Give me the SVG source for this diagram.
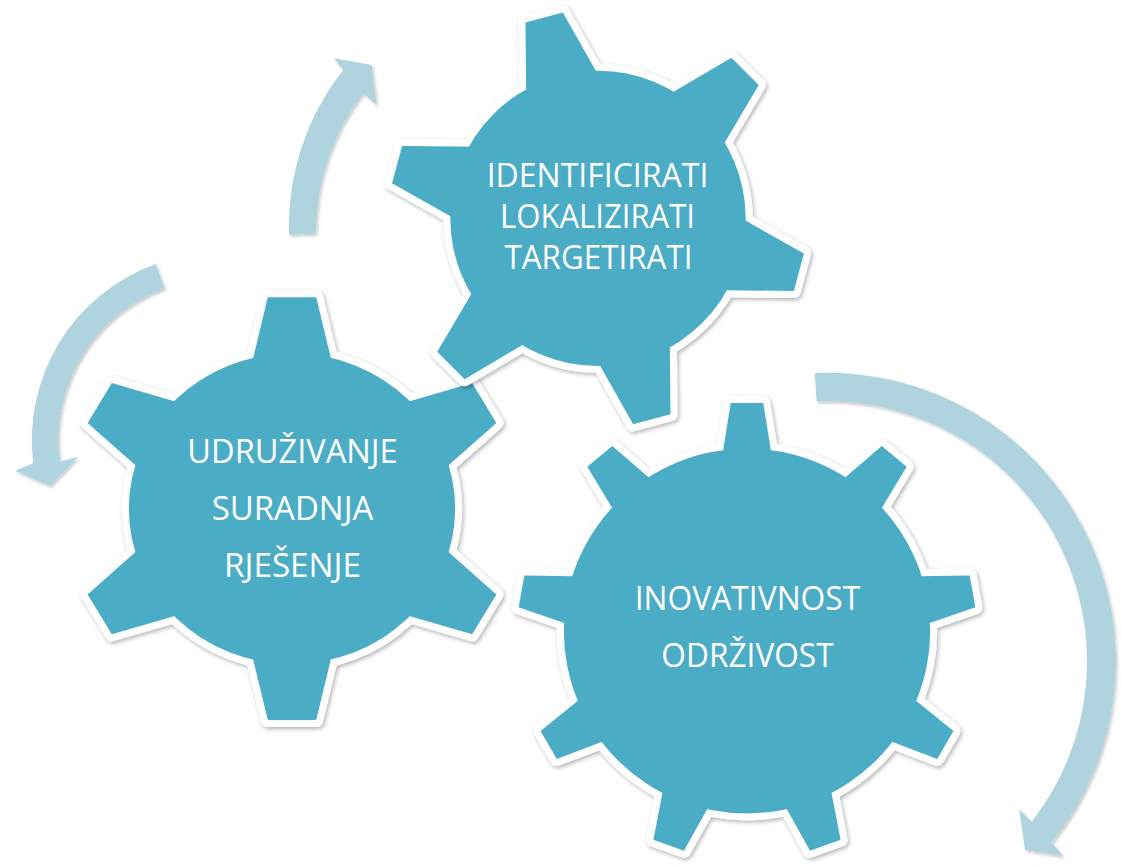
<svg xmlns="http://www.w3.org/2000/svg" xmlns:xlink="http://www.w3.org/1999/xlink" width="1121" height="865" viewBox="0 0 1121 865">
<defs>
<style>
.ol { fill:#ffffff; stroke:#ffffff; stroke-width:14; stroke-linejoin:round; }
.fl { fill:#4BACC6; stroke:none; }
.txt { font-family:'Open Sans','Noto Sans','Liberation Sans',sans-serif; font-size:32.5px; fill:#ffffff; text-anchor:middle; }
.arr { fill:#AFD3DF; }
</style>
<filter id="sh" x="-10%" y="-10%" width="120%" height="120%">
<feDropShadow dx="1.5" dy="2" stdDeviation="2" flood-color="#000000" flood-opacity="0.3"/>
</filter>
<filter id="ash" x="-10%" y="-10%" width="120%" height="120%">
<feDropShadow dx="1.5" dy="2" stdDeviation="1.5" flood-color="#000000" flood-opacity="0.22"/>
</filter>
<path id="t1" d="M-0.093,-1 L0.093,-1 L0.196,-0.6 L-0.196,-0.6 Z" vector-effect="non-scaling-stroke"/>
<circle id="c1" r="0.71" vector-effect="non-scaling-stroke"/>
<path id="t2" d="M-0.109,-1 L0.109,-1 L0.201,-0.6 L-0.201,-0.6 Z" vector-effect="non-scaling-stroke"/>
<circle id="c2" r="0.735" vector-effect="non-scaling-stroke"/>
<path id="t3" d="M-0.071,-1 L0.071,-1 L0.119,-0.7 L-0.119,-0.7 Z" vector-effect="non-scaling-stroke"/>
<circle id="c3" r="0.80" vector-effect="non-scaling-stroke"/>
<g id="g1shape">
<use xlink:href="#c1"/>
<use xlink:href="#t1" transform="rotate(-15)"/>
<use xlink:href="#t1" transform="rotate(45)"/>
<use xlink:href="#t1" transform="rotate(105)"/>
<use xlink:href="#t1" transform="rotate(165)"/>
<use xlink:href="#t1" transform="rotate(225)"/>
<use xlink:href="#t1" transform="rotate(285)"/>
</g>
<g id="g2shape">
<use xlink:href="#c2"/>
<use xlink:href="#t2"/>
<use xlink:href="#t2" transform="rotate(60)"/>
<use xlink:href="#t2" transform="rotate(120)"/>
<use xlink:href="#t2" transform="rotate(180)"/>
<use xlink:href="#t2" transform="rotate(240)"/>
<use xlink:href="#t2" transform="rotate(300)"/>
</g>
<g id="g3shape">
<use xlink:href="#c3"/>
<use xlink:href="#t3"/>
<use xlink:href="#t3" transform="rotate(40)"/>
<use xlink:href="#t3" transform="rotate(80)"/>
<use xlink:href="#t3" transform="rotate(120)"/>
<use xlink:href="#t3" transform="rotate(160)"/>
<use xlink:href="#t3" transform="rotate(200)"/>
<use xlink:href="#t3" transform="rotate(240)"/>
<use xlink:href="#t3" transform="rotate(280)"/>
<use xlink:href="#t3" transform="rotate(320)"/>
</g>
</defs>
<rect x="0" y="0" width="1121" height="865" fill="#ffffff"/>

<g id="connectors" class="arr" filter="url(#ash)">
<path id="arrow-a" d="M289.2,234.7 A252,252 0 0 1 343.3,70 L334,58.3 L371.7,65 L376.7,105 L363.3,93.3 A225,225 0 0 0 316.2,233.6 Z"/>
<path id="arrow-b" d="M155.7,264.1 A187,187 0 0 0 33.3,463.3 L15,470.7 L50,486 L78.3,456.7 L60,461.7 A161,161 0 0 1 164.5,288.5 Z"/>
<path id="arrow-c" d="M814.9,373 A288.5,288.5 0 0 1 1051.7,842.7 L1063.3,856 L1025,850 L1019.3,809.3 L1031.7,821.7 A260,260 0 0 0 816.6,401.5 Z"/>
</g>

<g id="gear-inovativnost">
<g filter="url(#sh)"><g class="ol" transform="translate(747 631) scale(229 228)"><use xlink:href="#g3shape"/></g></g>
<g class="fl" transform="translate(747 631) scale(229 228)"><use xlink:href="#g3shape"/></g>
<text class="txt" x="747.5" y="610" textLength="225.7" lengthAdjust="spacingAndGlyphs">INOVATIVNOST</text>
<text class="txt" x="747.5" y="666.7" textLength="172.3" lengthAdjust="spacingAndGlyphs">ODRŽIVOST</text>
</g>

<g id="gear-udruzivanje">
<g filter="url(#sh)"><g class="ol" transform="translate(292 508.7) scale(222 211.4)"><use xlink:href="#g2shape"/></g></g>
<g class="fl" transform="translate(292 508.7) scale(222 211.4)"><use xlink:href="#g2shape"/></g>
<text class="txt" x="292.5" y="462.7" textLength="210.3" lengthAdjust="spacingAndGlyphs">UDRUŽIVANJE</text>
<text class="txt" x="292.5" y="520" textLength="161.7" lengthAdjust="spacingAndGlyphs">SURADNJA</text>
<text class="txt" x="292.5" y="576.7" textLength="137" lengthAdjust="spacingAndGlyphs">RJEŠENJE</text>
</g>

<g id="gear-identificirati">
<g filter="url(#sh)"><g class="ol" transform="translate(598 218.4) scale(208)"><use xlink:href="#g1shape"/></g></g>
<g class="fl" transform="translate(598 218.4) scale(208)"><use xlink:href="#g1shape"/></g>
<text class="txt" x="597.5" y="187.3" textLength="221.7" lengthAdjust="spacingAndGlyphs">IDENTIFICIRATI</text>
<text class="txt" x="597.5" y="228.3" textLength="195" lengthAdjust="spacingAndGlyphs">LOKALIZIRATI</text>
<text class="txt" x="598.5" y="269.3" textLength="188" lengthAdjust="spacingAndGlyphs">TARGETIRATI</text>
</g>
</svg>
